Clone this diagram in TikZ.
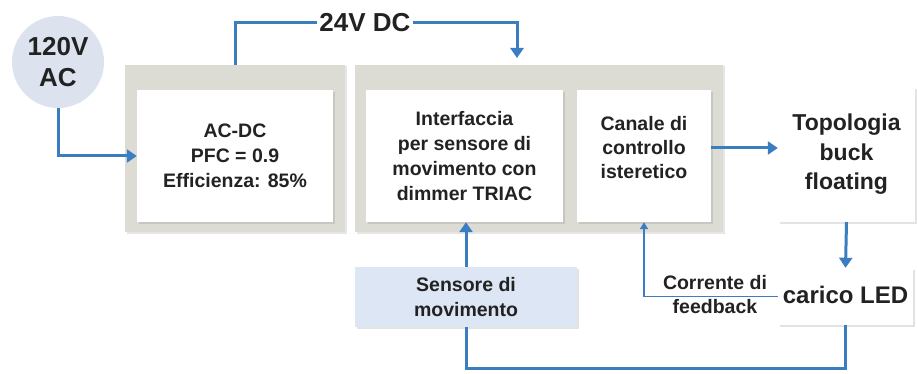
\documentclass[tikz,border=0pt]{standalone}
\usepackage{fontspec}
\setmainfont{Liberation Sans}
\usetikzlibrary{shadows,arrows.meta}
\definecolor{lineblue}{HTML}{3A7DC0}
\definecolor{panelgray}{HTML}{DCDCD5}
\definecolor{circfill}{HTML}{DCE3EF}
\definecolor{sensfill}{HTML}{DDE6F4}
\definecolor{txt}{HTML}{222222}
\tikzset{
  panel/.style={rectangle, fill=panelgray, inner sep=0pt,
    drop shadow={shadow xshift=1.5pt, shadow yshift=-1.5pt, opacity=0.2}},
  wbox/.style={rectangle, fill=white, inner sep=0pt, align=center, text=txt,
    font=\bfseries\fontsize{19.5}{25}\selectfont,
    drop shadow={shadow xshift=2pt, shadow yshift=-2pt, opacity=0.22}},
  lbl/.style={align=center, text=txt, font=\bfseries\fontsize{19.5}{24}\selectfont, inner sep=1pt},
  conn/.style={draw=lineblue, line width=3pt, -{Triangle[length=10pt,width=13pt]}},
  plain/.style={draw=lineblue, line width=3pt},
  fb/.style={draw=lineblue, line width=1.6pt, -{Triangle[length=7pt,width=8pt]}}
}
\begin{document}
\begin{tikzpicture}[x=1pt,y=-1pt]
\useasboundingbox (0,0) rectangle (917,374);
% panels
\node[panel, minimum width=220pt, minimum height=167pt] (panel1) at (235,148.5) {};
\node[panel, minimum width=368pt, minimum height=167pt] (panel2) at (539,148.5) {};
% source
\node[circle, fill=circfill, minimum size=92pt, inner sep=0pt, align=center, text=txt,
  font=\bfseries\fontsize{26}{31}\selectfont] (ac) at (58,62) {120V\\AC};
% boxes
\node[wbox, minimum width=196pt, minimum height=132pt] (acdc) at (235,156) {AC-DC\\PFC = 0.9\\Efficienza: 85\%};
\node[wbox, minimum width=197pt, minimum height=132pt] (interf) at (464.5,156) {Interfaccia\\per sensore di\\movimento con\\dimmer TRIAC};
\node[wbox, minimum width=134pt, minimum height=132pt] (canale) at (644,156) {};
\node[lbl] (canaletxt) at (644,148) {Canale di\\controllo\\isteretico};
\node[wbox, minimum width=137pt, minimum height=135pt, font=\bfseries\fontsize{23}{29.5}\selectfont] (topo) at (846.5,154.5) {Topologia\\buck\\floating};
\node[wbox, minimum width=135pt, minimum height=57pt, font=\bfseries\fontsize{24}{29}\selectfont] (led) at (845.5,296.5) {\raisebox{3pt}{carico LED}};
\node[wbox, fill=sensfill, minimum width=222pt, minimum height=60pt] (sens) at (466,297) {Sensore di\\movimento};
% labels
\node[lbl, font=\bfseries\fontsize{26}{30}\selectfont, inner sep=2pt] (dc) at (365,23) {24V DC};
\node[lbl] (fbl) at (715,295) {Corrente di\\feedback};
\coordinate (dcin) at (517,65);
% connectors
\draw[conn] (ac.south) |- (acdc.west);
\draw[plain] (panel1.north) |- (dc.west);
\draw[conn, shorten >=7pt] (dc.east) -| (dcin);
\draw[conn] ([yshift=8pt]canale.east) -- ([yshift=6.5pt]topo.west);
\draw[conn] (topo.south) -- (led.north);
\draw[conn] (sens.north) -- (sens.north |- interf.south);
\draw[fb] (led.west) -| (canale.south);
\draw[plain] (led.south) -- ++(0,43) -| (sens.south);
\end{tikzpicture}
\end{document}
